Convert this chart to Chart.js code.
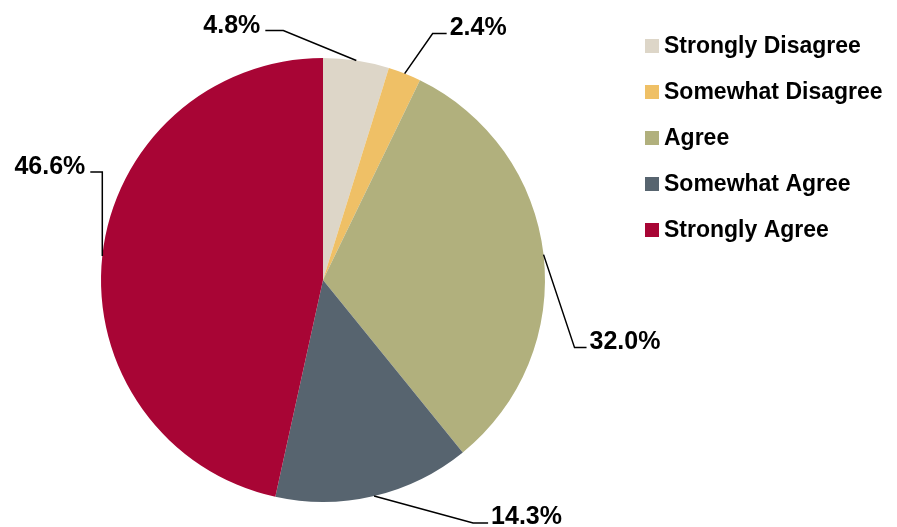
<!DOCTYPE html>
<html>
<head>
<meta charset="utf-8">
<script src="https://cdn.jsdelivr.net/npm/chart.js@4/dist/chart.umd.min.js"></script>
<style>
  html, body { margin: 0; padding: 0; background: #fff; }
  #wrap { width: 897px; height: 527px; position: relative; }
</style>
</head>
<body>
<div id="wrap"><canvas id="pieChart"></canvas></div>
<script>
const categories = ['Strongly Disagree', 'Somewhat Disagree', 'Agree', 'Somewhat Agree', 'Strongly Agree'];
const values = [4.8, 2.4, 32.0, 14.3, 46.6];
const sliceColors = ['#ddd6c8', '#efc066', '#b1b07d', '#57646f', '#a80535'];

const LABEL_FONT = 'bold 25px "Liberation Sans", Arial, sans-serif';
const LEGEND_FONT = 'bold 23px "Liberation Sans", Arial, sans-serif';

// leader line layout per slice: elbow offset from the arc point, then horizontal run
const leaders = [
    { dx: -73, dy: -30, run: -18 },
    { dx: 28, dy: -40, run: 14 },
    { dx: 31, dy: 93, run: 12 },
    { dx: 99, dy: 27, run: 15 },
    { dx: 0, dy: -84, run: -12 }
];

const labelPlugin = {
    id: 'leaderLabels',
    afterDraw(chart) {
        const ctx = chart.ctx;
        const meta = chart.getDatasetMeta(0);
        ctx.save();
        ctx.strokeStyle = '#000';
        ctx.lineWidth = 1.5;
        ctx.fillStyle = '#000';
        ctx.font = LABEL_FONT;
        ctx.textBaseline = 'alphabetic';
        meta.data.forEach((arc, i) => {
            const mid = (arc.startAngle + arc.endAngle) / 2;
            const x0 = arc.x + Math.cos(mid) * arc.outerRadius;
            const y0 = arc.y + Math.sin(mid) * arc.outerRadius;
            const l = leaders[i];
            const x1 = x0 + l.dx, y1 = y0 + l.dy;
            const x2 = x1 + l.run;
            ctx.beginPath();
            ctx.moveTo(x0, y0);
            ctx.lineTo(x1, y1);
            ctx.lineTo(x2, y1);
            ctx.stroke();
            const txt = values[i].toFixed(1) + '%';
            if (l.run < 0) {
                ctx.textAlign = 'right';
                ctx.fillText(txt, x2 - 5, y1 + 2);
            } else {
                ctx.textAlign = 'left';
                ctx.fillText(txt, x2 + 3, y1 + 1);
            }
        });

        // legend
        ctx.font = LEGEND_FONT;
        ctx.textAlign = 'left';
        ctx.textBaseline = 'middle';
        categories.forEach((name, i) => {
            const cy = 46 + i * 46;
            ctx.fillStyle = sliceColors[i];
            ctx.fillRect(645, cy - 7, 14, 14);
            ctx.fillStyle = '#000';
            ctx.fillText(name, 664, cy + 1);
        });
        ctx.restore();
    }
};

const ctx = document.getElementById('pieChart').getContext('2d');
new Chart(ctx, {
    type: 'pie',
    data: {
        labels: categories,
        datasets: [{
            data: values,
            backgroundColor: sliceColors,
            borderWidth: 0
        }]
    },
    options: {
        responsive: true,
        maintainAspectRatio: false,
        animation: false,
        layout: { padding: { left: 101, right: 352, top: 58, bottom: 25 } },
        plugins: {
            legend: { display: false },
            tooltip: { enabled: false }
        }
    },
    plugins: [labelPlugin]
});
</script>
</body>
</html>
